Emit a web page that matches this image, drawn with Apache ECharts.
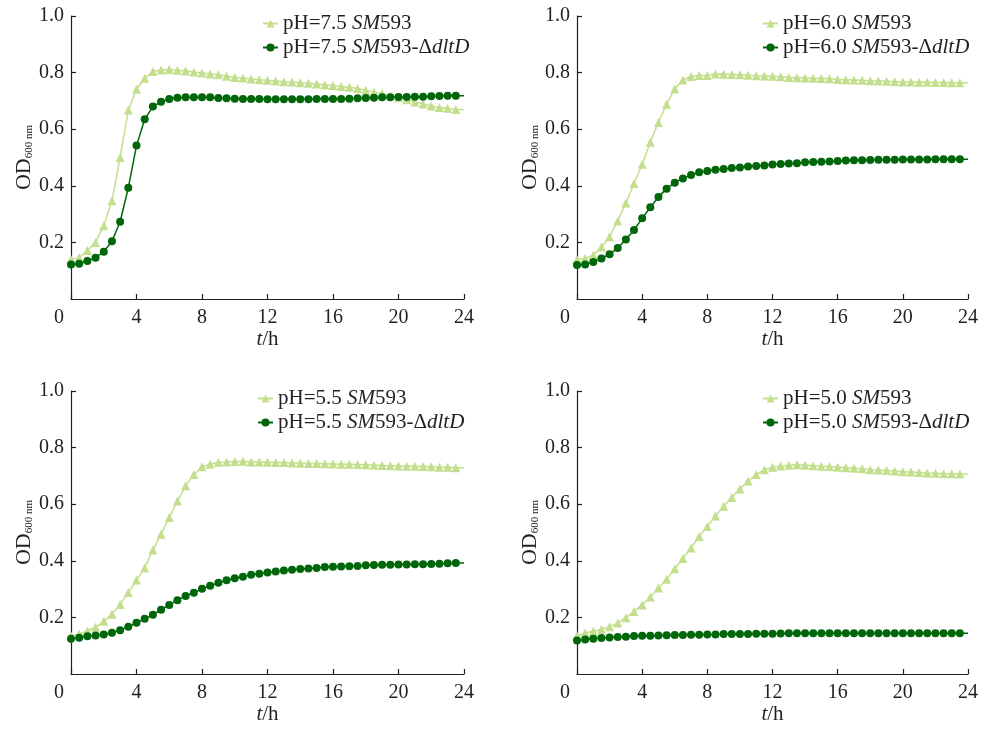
<!DOCTYPE html>
<html>
<head>
<meta charset="utf-8">
<script src="https://cdn.jsdelivr.net/npm/echarts@6/dist/echarts.min.js"></script>
<style>
  html, body { margin: 0; padding: 0; background: #fff; }
  #chart { width: 981px; height: 729px; }
</style>
</head>
<body>
<div id="chart"></div>
<script>
// sampling times (h)
const hours = [0, 0.5, 1, 1.5, 2, 2.5, 3, 3.5, 4, 4.5, 5, 5.5, 6, 6.5, 7, 7.5, 8, 8.5, 9, 9.5,
  10, 10.5, 11, 11.5, 12, 12.5, 13, 13.5, 14, 14.5, 15, 15.5, 16, 16.5, 17, 17.5, 18, 18.5, 19, 19.5,
  20, 20.5, 21, 21.5, 22, 22.5, 23, 23.5, 24]

const xTicks = [0, 4, 8, 12, 16, 20, 24]
const yTicks = [0.2, 0.4, 0.6, 0.8, 1.0]

const phLabels = ['7.5', '6.0', '5.5', '5.0']

// OD600 values, wild type SM593
const wt75 = [0.140, 0.146, 0.171, 0.200, 0.259, 0.347, 0.500, 0.668, 0.741, 0.780, 0.804, 0.809, 0.811, 0.808, 0.806, 0.802,
  0.799, 0.795, 0.792, 0.787, 0.783, 0.781, 0.777, 0.775, 0.773, 0.770, 0.768, 0.767, 0.764, 0.762, 0.760, 0.756,
  0.754, 0.751, 0.748, 0.744, 0.738, 0.731, 0.726, 0.718, 0.711, 0.704, 0.696, 0.689, 0.682, 0.677, 0.674, 0.670, 0.670]
const wt60 = [0.140, 0.143, 0.155, 0.184, 0.220, 0.276, 0.339, 0.408, 0.476, 0.554, 0.624, 0.688, 0.743, 0.774, 0.786, 0.790,
  0.790, 0.795, 0.794, 0.793, 0.792, 0.791, 0.789, 0.788, 0.787, 0.785, 0.783, 0.782, 0.781, 0.780, 0.779, 0.778,
  0.776, 0.775, 0.774, 0.773, 0.771, 0.770, 0.769, 0.768, 0.767, 0.767, 0.766, 0.766, 0.765, 0.765, 0.764, 0.764, 0.764]
const wt55 = [0.135, 0.141, 0.152, 0.165, 0.186, 0.211, 0.246, 0.288, 0.332, 0.375, 0.438, 0.494, 0.553, 0.611, 0.665, 0.705,
  0.732, 0.741, 0.748, 0.749, 0.751, 0.752, 0.749, 0.749, 0.748, 0.747, 0.747, 0.746, 0.745, 0.744, 0.744, 0.743,
  0.742, 0.741, 0.741, 0.740, 0.739, 0.738, 0.737, 0.736, 0.735, 0.734, 0.734, 0.733, 0.732, 0.731, 0.731, 0.729, 0.729]
const wt50 = [0.135, 0.145, 0.151, 0.158, 0.167, 0.180, 0.199, 0.221, 0.244, 0.272, 0.304, 0.335, 0.372, 0.408, 0.445, 0.486,
  0.521, 0.558, 0.593, 0.624, 0.654, 0.682, 0.705, 0.722, 0.731, 0.735, 0.738, 0.739, 0.738, 0.736, 0.734, 0.733,
  0.731, 0.729, 0.727, 0.725, 0.722, 0.721, 0.719, 0.717, 0.715, 0.714, 0.712, 0.710, 0.709, 0.708, 0.708, 0.707, 0.707]

// OD600 values, SM593-ΔdltD
const mut75 = [0.122, 0.125, 0.134, 0.146, 0.167, 0.204, 0.273, 0.393, 0.542, 0.635, 0.680, 0.697, 0.707, 0.711, 0.713, 0.713,
  0.713, 0.713, 0.710, 0.709, 0.708, 0.707, 0.707, 0.707, 0.706, 0.706, 0.706, 0.706, 0.706, 0.706, 0.707, 0.707,
  0.707, 0.707, 0.708, 0.709, 0.710, 0.711, 0.713, 0.713, 0.714, 0.714, 0.715, 0.715, 0.716, 0.717, 0.718, 0.718, 0.718]
const mut60 = [0.120, 0.122, 0.131, 0.143, 0.158, 0.180, 0.210, 0.244, 0.285, 0.324, 0.360, 0.390, 0.411, 0.426, 0.438, 0.448,
  0.452, 0.457, 0.459, 0.463, 0.465, 0.468, 0.470, 0.472, 0.475, 0.477, 0.479, 0.480, 0.483, 0.484, 0.485, 0.486,
  0.488, 0.489, 0.490, 0.490, 0.491, 0.492, 0.492, 0.492, 0.493, 0.493, 0.493, 0.493, 0.494, 0.494, 0.494, 0.494, 0.494]
const mut55 = [0.125, 0.128, 0.133, 0.136, 0.140, 0.146, 0.155, 0.167, 0.181, 0.195, 0.209, 0.227, 0.244, 0.261, 0.276, 0.287,
  0.301, 0.312, 0.322, 0.331, 0.338, 0.344, 0.351, 0.354, 0.359, 0.362, 0.366, 0.368, 0.371, 0.373, 0.375, 0.378,
  0.379, 0.380, 0.381, 0.382, 0.384, 0.385, 0.386, 0.386, 0.387, 0.387, 0.388, 0.388, 0.389, 0.390, 0.391, 0.392, 0.392]
const mut50 = [0.118, 0.122, 0.125, 0.127, 0.129, 0.131, 0.132, 0.134, 0.135, 0.135, 0.136, 0.137, 0.138, 0.138, 0.139, 0.139,
  0.140, 0.140, 0.141, 0.141, 0.141, 0.141, 0.142, 0.142, 0.142, 0.143, 0.144, 0.144, 0.144, 0.144, 0.144, 0.144,
  0.144, 0.144, 0.144, 0.144, 0.144, 0.144, 0.144, 0.144, 0.144, 0.144, 0.144, 0.144, 0.144, 0.144, 0.144, 0.144, 0.144]

const wtSets = [wt75, wt60, wt55, wt50]
const mutSets = [mut75, mut60, mut55, mut50]

const FONT = '"Liberation Serif", "Times New Roman", serif'
const LIGHT = '#c3df8d'
const DARK = '#00660a'
const AXIS = '#231f20'

const panels = [
  { left: 71, top: 16, legendLeft: 257 },
  { left: 577, top: 16, legendLeft: 757 },
  { left: 71, top: 391, legendLeft: 252 },
  { left: 577, top: 391, legendLeft: 757 }
]

// build [t, v] pairs, last point at 24 h has no marker
function toPoints (values) {
  return values.map((v, i) => {
    if (i === values.length - 1) return { value: [hours[i], v], symbol: 'none' }
    return [hours[i], v]
  })
}

const grid = []
const xAxis = []
const yAxis = []
const legend = []
const series = []

panels.forEach((p, k) => {
  grid.push({ left: p.left, top: p.top, width: 393, height: 283 })

  xAxis.push({
    gridIndex: k,
    type: 'value',
    min: 0,
    max: 24,
    interval: 4,
    name: '{i|t}/h',
    nameLocation: 'middle',
    nameGap: 30,
    nameTextStyle: {
      fontFamily: FONT,
      fontSize: 21,
      color: AXIS,
      rich: { i: { fontFamily: FONT, fontSize: 21, fontStyle: 'italic', color: AXIS } }
    },
    axisLine: { lineStyle: { color: AXIS, width: 1.2 } },
    axisTick: { inside: true, length: 5, lineStyle: { color: AXIS, width: 1.2 } },
    splitLine: { show: false },
    axisLabel: {
      margin: 9,
      fontFamily: FONT,
      fontSize: 20,
      color: AXIS,
      formatter: v => (v === xTicks[0] ? '{z|0}' : String(v)),
      rich: { z: { fontFamily: FONT, fontSize: 20, color: AXIS, padding: [0, 24, 0, 0] } }
    }
  })

  yAxis.push({
    gridIndex: k,
    type: 'value',
    min: 0,
    max: yTicks[yTicks.length - 1],
    interval: 0.2,
    name: '{o|OD}{s|600 nm}',
    nameLocation: 'middle',
    nameGap: 36,
    nameTextStyle: {
      rich: {
        o: { fontFamily: FONT, fontSize: 22, color: AXIS, lineHeight: 24, verticalAlign: 'bottom' },
        s: { fontFamily: FONT, fontSize: 11, color: AXIS, lineHeight: 24, verticalAlign: 'bottom', padding: [6, 0, 0, 0] }
      }
    },
    axisLine: { show: true, lineStyle: { color: AXIS, width: 1.2 } },
    axisTick: { show: true, inside: true, length: 5, lineStyle: { color: AXIS, width: 1.2 } },
    splitLine: { show: false },
    axisLabel: {
      showMinLabel: false,
      margin: 7,
      fontFamily: FONT,
      fontSize: 20,
      color: AXIS,
      formatter: v => v.toFixed(1)
    }
  })

  const wtName = `pH=${phLabels[k]} SM593`
  const mutName = `pH=${phLabels[k]} SM593-ΔdltD`

  legend.push({
    data: [wtName, mutName],
    orient: 'vertical',
    left: p.legendLeft,
    top: p.top - 8,
    itemWidth: 15,
    itemHeight: 10,
    itemGap: 3,
    textStyle: {
      fontFamily: FONT,
      fontSize: 21,
      color: AXIS,
      lineHeight: 20,
      rich: { i: { fontFamily: FONT, fontSize: 21, fontStyle: 'italic', color: AXIS, lineHeight: 20 } }
    },
    formatter: name => name.replace('SM', '{i|SM}').replace('dltD', '{i|dltD}')
  })

  series.push({
    name: wtName,
    type: 'line',
    xAxisIndex: k,
    yAxisIndex: k,
    data: toPoints(wtSets[k]),
    symbol: 'triangle',
    symbolSize: 9,
    lineStyle: { color: LIGHT, width: 1.5 },
    itemStyle: { color: LIGHT },
    animation: false
  })
  series.push({
    name: mutName,
    type: 'line',
    xAxisIndex: k,
    yAxisIndex: k,
    data: toPoints(mutSets[k]),
    symbol: 'circle',
    symbolSize: 8,
    lineStyle: { color: DARK, width: 1.5 },
    itemStyle: { color: DARK },
    animation: false
  })
})

const chart = echarts.init(document.getElementById('chart'))
chart.setOption({
  backgroundColor: '#fff',
  animation: false,
  grid,
  xAxis,
  yAxis,
  legend,
  series
})
</script>
</body>
</html>
